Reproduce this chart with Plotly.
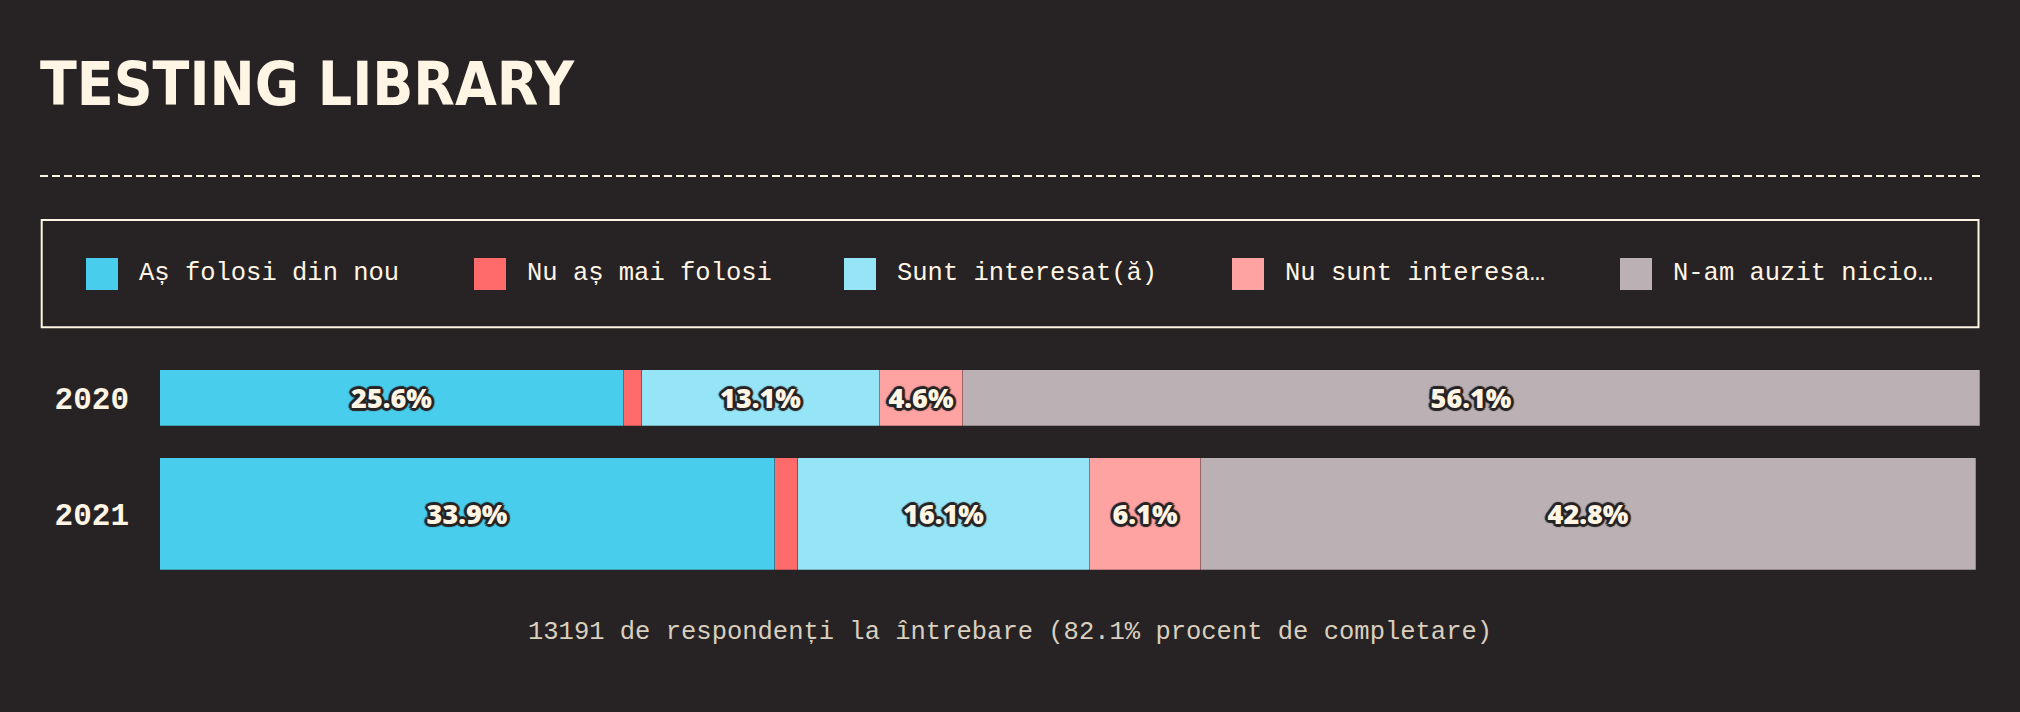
import plotly.graph_objects as go

# ---------------- data ----------------
years = ["2020", "2021"]
series_names = ["Aș folosi din nou", "Nu aș mai folosi", "Sunt interesat(ă)",
                "Nu sunt interesat(ă)", "N-am auzit niciodată"]
legend_labels = ["Aș folosi din nou", "Nu aș mai folosi", "Sunt interesat(ă)",
                 "Nu sunt interesa…", "N-am auzit nicio…"]
would_use_again = [25.6, 33.9]
would_not_use = [1.0, 1.3]
interested = [13.1, 16.1]
not_interested = [4.6, 6.1]
never_heard = [56.1, 42.8]
series_values = [would_use_again, would_not_use, interested, not_interested, never_heard]
show_label = [True, False, True, True, True]
title_text = "TESTING LIBRARY"
footnote_text = "13191 de respondenți la întrebare (82.1% procent de completare)"

# ---------------- style ----------------
BG = "#272324"
CREAM = "#FFF5E4"
colors = ["#48CEEC", "#FF6B6B", "#95E5F7", "#FFA2A2", "#BBB1B4"]
MONO = "Liberation Mono, DejaVu Sans Mono, monospace"
W, H = 2020, 712
L, R, T, B = 160, 1980, 370, 570

def px_x(x):
    return (x - L) / (R - L)

def px_y(y):
    return (B - y) / (B - T)

outline = ", ".join(f"{dx}px {dy}px 1px {BG}" for dx, dy in
                    [(-2, -2), (2, -2), (-2, 2), (2, 2), (0, -3), (0, 3), (-3, 0), (3, 0)])

bar_widths = [0.479, 0.964]

fig = go.Figure()
for name, vals, col, lab in zip(series_names, series_values, colors, show_label):
    fig.add_trace(go.Bar(
        y=years, x=vals, name=name, orientation="h",
        width=bar_widths,
        marker=dict(color=col, line=dict(width=0.6, color="rgba(39,35,36,0.45)")),
        text=[f"{v:.1f}%" for v in vals] if lab else None,
        textposition="inside" if lab else "none",
        insidetextanchor="middle",
        textangle=0,
        textfont=dict(family="Open Sans, sans-serif", size=27, weight=800,
                      color=CREAM, shadow=outline),
        hoverinfo="x+name",
        showlegend=False,
    ))

totals = [sum(s[i] for s in series_values) for i in range(len(years))]

shapes = []
annotations = []

# title
annotations.append(dict(text=title_text, xref="paper", yref="paper",
                        x=px_x(38), y=px_y(84), xanchor="left", yanchor="middle",
                        showarrow=False,
                        font=dict(family="DejaVu Sans Condensed, sans-serif",
                                  size=60, weight=700, color=CREAM)))
# dashed separator
shapes.append(dict(type="line", xref="paper", yref="paper",
                   x0=px_x(40), x1=px_x(1980), y0=px_y(176), y1=px_y(176),
                   line=dict(color=CREAM, width=2, dash="8px,4px")))
# legend box
shapes.append(dict(type="rect", xref="paper", yref="paper",
                   x0=px_x(41.7), x1=px_x(1978.5), y0=px_y(220), y1=px_y(327.3),
                   line=dict(color=CREAM, width=2), fillcolor="rgba(0,0,0,0)"))
legend_x = [86, 474, 844, 1232, 1620]
for lx, lab, col in zip(legend_x, legend_labels, colors):
    shapes.append(dict(type="rect", xref="paper", yref="paper",
                       x0=px_x(lx), x1=px_x(lx + 32), y0=px_y(258), y1=px_y(290),
                       line=dict(width=0), fillcolor=col))
    annotations.append(dict(text=lab, xref="paper", yref="paper",
                            x=px_x(lx + 51), y=px_y(273), xanchor="left", yanchor="middle",
                            showarrow=False,
                            font=dict(family=MONO, size=25.5, color=CREAM)))
# footnote
annotations.append(dict(text=footnote_text, xref="paper", yref="paper",
                        x=px_x(W / 2), y=px_y(632), xanchor="center", yanchor="middle",
                        showarrow=False,
                        font=dict(family=MONO, size=25.5, color="#D9CFBF")))

fig.update_layout(
    width=W, height=H,
    paper_bgcolor=BG, plot_bgcolor=BG,
    margin=dict(l=L, r=W - R, t=T, b=H - B, pad=0),
    barmode="stack",
    bargap=0,
    showlegend=False,
    xaxis=dict(range=[0, max(totals)], visible=False, fixedrange=True),
    yaxis=dict(type="category", range=[1.482, -0.2397], showgrid=False, zeroline=False,
               showline=False, ticks="", ticklabelstandoff=30,
               tickfont=dict(family=MONO, size=31, weight=700, color=CREAM),
               fixedrange=True),
    shapes=shapes,
    annotations=annotations,
)

fig.write_html("out.html")
